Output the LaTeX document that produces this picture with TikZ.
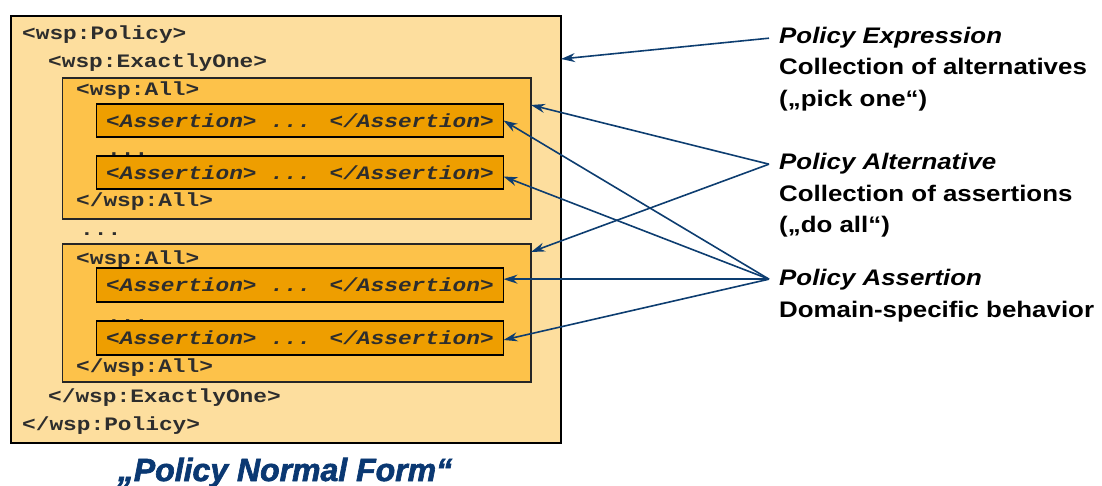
\documentclass[tikz,border=0pt]{standalone}
\usepackage{fontspec}
\setmainfont{Liberation Sans}
\newfontfamily\codefont[FakeStretch=1.2]{Liberation Mono}
\newfontfamily\lblfont[FakeStretch=1.15]{Liberation Sans}
\newfontfamily\titlefont[BoldItalicFeatures={FakeBold=2}]{Liberation Sans}
\usetikzlibrary{arrows.meta}

\definecolor{policyfill}{RGB}{253,222,158}
\definecolor{allfill}{RGB}{253,194,74}
\definecolor{assertfill}{RGB}{238,158,0}
\definecolor{codegray}{RGB}{45,45,45}
\definecolor{arrowblue}{RGB}{13,61,112}
\definecolor{titleblue}{RGB}{10,56,114}

\tikzset{
  policybox/.style={draw=black, line width=2.2pt, fill=policyfill,
    inner sep=0pt, outer sep=0pt, anchor=north west},
  allbox/.style={draw=black!85, line width=1.5pt, fill=allfill,
    inner sep=0pt, outer sep=0pt, anchor=north west},
  assertbox/.style={draw=black, line width=1.5pt, fill=assertfill,
    inner sep=0pt, outer sep=0pt, anchor=north west,
    minimum width=407pt, text=codegray,
    font=\codefont\bfseries\itshape\fontsize{19}{19}\selectfont},
  code/.style={anchor=base west, inner sep=0pt, text=codegray,
    font=\codefont\bfseries\fontsize{19}{19}\selectfont},
  lblhead/.style={anchor=base west, inner sep=0pt,
    font=\lblfont\bfseries\itshape\fontsize{22.5}{22.5}\selectfont},
  lbltext/.style={anchor=base west, inner sep=0pt,
    font=\lblfont\bfseries\fontsize{22.5}{22.5}\selectfont},
  pointer/.style={draw=arrowblue, line width=1.6pt,
    -{Stealth[length=14pt,width=9pt]}},
}

\begin{document}
\begin{tikzpicture}[x=1pt,y=-1pt]
\useasboundingbox (0,0) rectangle (1102,486);

% nested policy containers
\node[policybox, minimum width=550pt, minimum height=427pt] (policy) at (11,16) {};
\node[allbox, minimum width=468.5pt, minimum height=141pt] (all1) at (62.5,78) {};
\node[allbox, minimum width=468.5pt, minimum height=138pt] (all2) at (62.5,244) {};

% policy markup
\node[code] (t1) at (22,40) {<wsp:Policy>};
\node[code] (t2) at (48,68) {<wsp:ExactlyOne>};
\node[code] (t3) at (76,96) {<wsp:All>};
\node[code] (t4) at (107,156) {...};
\node[code] (t5) at (76,207) {</wsp:All>};
\node[code] (t6) at (80,236) {...};
\node[code] (t7) at (76,264) {<wsp:All>};
\node[code] (t8) at (107,322) {...};
\node[code] (t9) at (76,372) {</wsp:All>};
\node[code] (t10) at (48,402) {</wsp:ExactlyOne>};
\node[code] (t11) at (22,430) {</wsp:Policy>};

% assertions
\node[assertbox, minimum height=33pt] (a1) at (96.5,104) {<Assertion> ... </Assertion>};
\node[assertbox, minimum height=33pt] (a2) at (96.5,156) {<Assertion> ... </Assertion>};
\node[assertbox, minimum height=34pt] (a3) at (96.5,268) {<Assertion> ... </Assertion>};
\node[assertbox, minimum height=34pt] (a4) at (96.5,321) {<Assertion> ... </Assertion>};

% caption
\node[anchor=base, inner sep=0pt, text=titleblue,
  font=\titlefont\bfseries\itshape\fontsize{32}{32}\selectfont] (pnf) at (285,481)
  {„Policy Normal Form“};

% explanations
\node[lblhead] (expr) at (779,44) {Policy Expression};
\node[lbltext] (expr2) at (779,75) {Collection of alternatives};
\node[lbltext] (expr3) at (779,107) {(„pick one“)};
\node[lblhead] (alt) at (779,170) {Policy Alternative};
\node[lbltext] (alt2) at (779,202) {Collection of assertions};
\node[lbltext] (alt3) at (779,233) {(„do all“)};
\node[lblhead] (asrt) at (779,285) {Policy Assertion};
\node[lbltext] (asrt2) at (779,317) {Domain-specific behavior};

% pointers
\draw[pointer] ([xshift=-10pt]expr.west) -- ([yshift=-43pt]policy.north east);
\draw[pointer] ([xshift=-10pt]alt.west) -- ([yshift=-27pt]all1.north east);
\draw[pointer] ([xshift=-10pt]alt.west) -- ([yshift=-8pt]all2.north east);
\draw[pointer] ([xshift=-10pt]asrt.west) -- (a1.east);
\draw[pointer] ([xshift=-10pt]asrt.west) -- ([yshift=-4pt]a2.east);
\draw[pointer] ([xshift=-10pt]asrt.west) -- (a3.east |- asrt.west);
\draw[pointer] ([xshift=-10pt]asrt.west) -- ([yshift=-2pt]a4.east);
\end{tikzpicture}
\end{document}
